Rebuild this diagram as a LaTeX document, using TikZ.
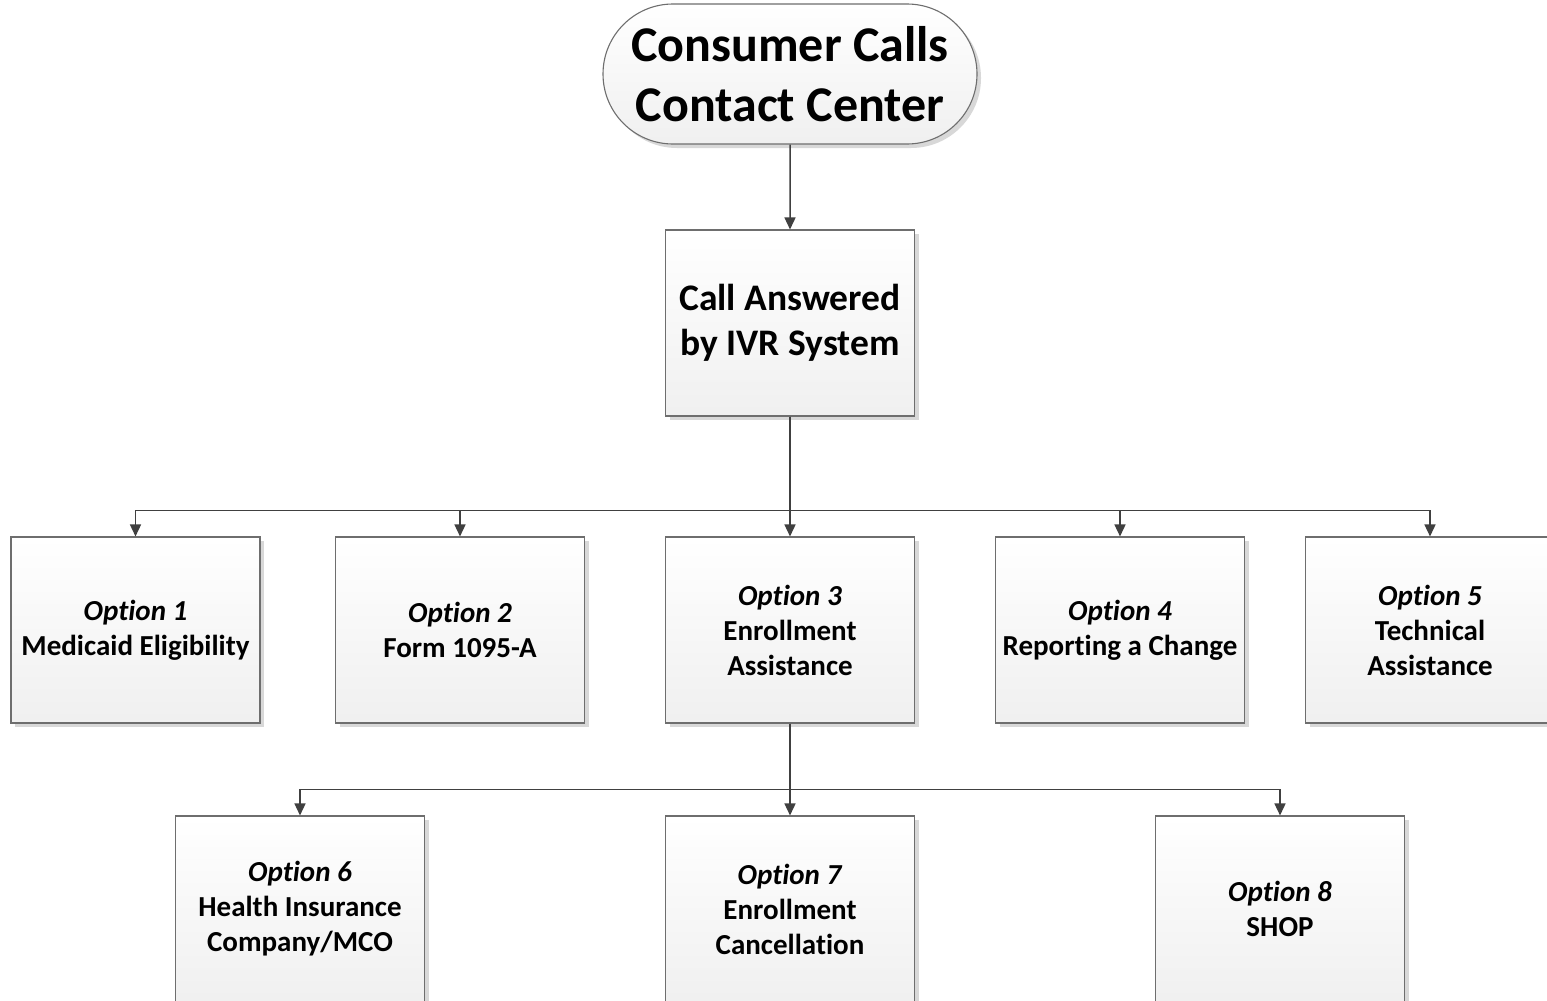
\documentclass[tikz,border=0pt]{standalone}
\usepackage{fontspec}
\setmainfont[Ligatures={NoCommon}]{Carlito}
\usetikzlibrary{arrows.meta,shapes.misc,shadows}
\definecolor{linec}{HTML}{404040}
\definecolor{borderc}{HTML}{6E6E6E}
\definecolor{shadowc}{HTML}{D8D8D8}
\tikzset{
  boxbase/.style={draw=borderc, line width=1.1pt, top color=white, bottom color=black!6,
    drop shadow={shadow xshift=4pt, shadow yshift=-4pt, fill=shadowc, opacity=1},
    align=center, font=\fontsize{29}{35}\selectfont\bfseries, inner sep=0pt},
  stepbox/.style={boxbase, rectangle, minimum width=249pt, minimum height=186pt},
  termbox/.style={boxbase, rounded rectangle, minimum width=374pt, minimum height=140pt,
    font=\fontsize{50}{60}\selectfont\bfseries},
  arr/.style={draw=linec, line width=1.5pt, -{Triangle[length=12pt,width=11pt]}},
}
\begin{document}
\begin{tikzpicture}[x=1pt,y=-1pt]
\useasboundingbox (0,0) rectangle (1547,1001);
\clip (0,0) rectangle (1547,1001);
\fill[white] (0,0) rectangle (1547,1001);
\node[termbox] (top) at (790,74) {Consumer Calls\\Contact Center};
\node[stepbox, font=\fontsize{37.5}{45}\selectfont\bfseries] (ivr) at (790,323) {Call Answered\\by IVR System};
\node[stepbox] (o1) at (135.5,630) {\textit{Option 1}\\Medicaid Eligibility};
\node[stepbox] (o2) at (460,630) {\textit{Option 2}\\Form 1095-A};
\node[stepbox] (o3) at (790,630) {\textit{Option 3}\\Enrollment\\Assistance};
\node[stepbox] (o4) at (1120,630) {\textit{Option 4}\\Reporting a Change};
\node[stepbox] (o5) at (1430,630) {\textit{Option 5}\\Technical\\Assistance};
\node[stepbox] (o6) at (300,909) {\textit{Option 6}\\Health Insurance\\Company/MCO};
\node[stepbox] (o7) at (790,909) {\textit{Option 7}\\Enrollment\\Cancellation};
\node[stepbox] (o8) at (1280,909) {\textit{Option 8}\\SHOP};
\draw[arr] (top) -- (ivr);
\foreach \n in {o1,o2,o3,o4,o5}
  \draw[arr] (ivr.south) -- ++(0,94) -| (\n.north);
\foreach \n in {o6,o7,o8}
  \draw[arr] (o3.south) -- ++(0,66) -| (\n.north);
\end{tikzpicture}
\end{document}
